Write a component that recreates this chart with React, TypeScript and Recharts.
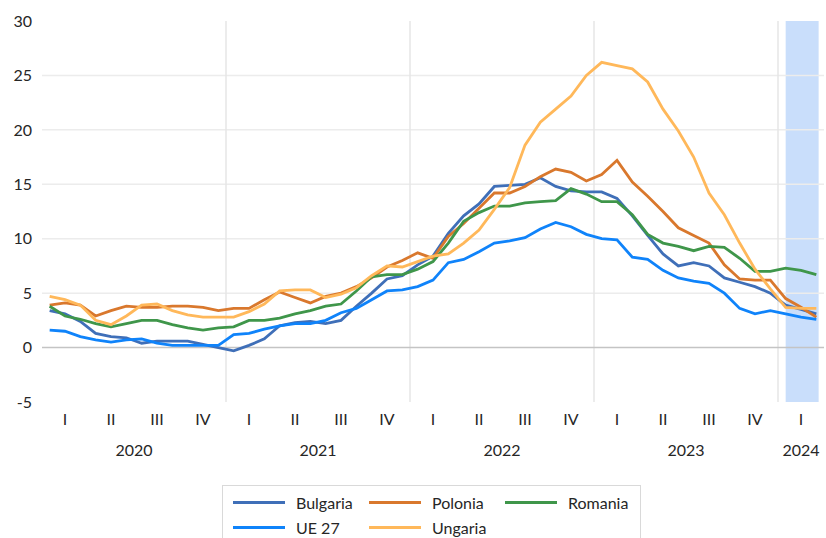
import { LineChart, Line, XAxis, YAxis, ReferenceLine, ReferenceArea } from "recharts";

const years = [2020, 2021, 2022, 2023, 2024];
const quarterLabels = ["I", "II", "III", "IV"];
const yTicks = [-5, 0, 5, 10, 15, 20, 25, 30];

const bulgaria = [
  3.4, 3.1, 2.4, 1.3, 1.0, 0.9, 0.4, 0.6, 0.6, 0.6, 0.3, 0.0,
  -0.3, 0.2, 0.8, 2.0, 2.3, 2.4, 2.2, 2.5, 3.8, 5.0, 6.3, 6.6,
  7.6, 8.4, 10.5, 12.1, 13.2, 14.8, 14.9, 15.0, 15.6, 14.8, 14.4, 14.3,
  14.3, 13.7, 12.1, 10.3, 8.6, 7.5, 7.8, 7.5, 6.4, 6.0, 5.6, 5.0,
  3.9, 3.5, 3.1,
];
const polonia = [
  3.9, 4.1, 3.9, 2.9, 3.4, 3.8, 3.7, 3.7, 3.8, 3.8, 3.7, 3.4,
  3.6, 3.6, 4.4, 5.1, 4.6, 4.1, 4.7, 5.0, 5.6, 6.4, 7.4, 8.0,
  8.7, 8.2, 10.2, 11.4, 12.8, 14.2, 14.2, 14.8, 15.7, 16.4, 16.1, 15.3,
  15.9, 17.2, 15.2, 13.9, 12.5, 11.0, 10.3, 9.6, 7.6, 6.3, 6.2, 6.2,
  4.5, 3.7, 2.8,
];
const romania = [
  3.8, 2.9, 2.6, 2.2, 1.9, 2.2, 2.5, 2.5, 2.1, 1.8, 1.6, 1.8,
  1.9, 2.5, 2.5, 2.7, 3.1, 3.4, 3.8, 4.0, 5.2, 6.5, 6.7, 6.7,
  7.2, 7.9, 9.6, 11.6, 12.4, 13.0, 13.0, 13.3, 13.4, 13.5, 14.6, 14.1,
  13.4, 13.4, 12.2, 10.4, 9.6, 9.3, 8.9, 9.3, 9.2, 8.2, 7.0, 7.0,
  7.3, 7.1, 6.7,
];
const ue27 = [
  1.6, 1.5, 1.0, 0.7, 0.5, 0.7, 0.8, 0.4, 0.2, 0.2, 0.2, 0.2,
  1.2, 1.3, 1.7, 2.0, 2.2, 2.2, 2.5, 3.2, 3.6, 4.4, 5.2, 5.3,
  5.6, 6.2, 7.8, 8.1, 8.8, 9.6, 9.8, 10.1, 10.9, 11.5, 11.1, 10.4,
  10.0, 9.9, 8.3, 8.1, 7.1, 6.4, 6.1, 5.9, 5.0, 3.6, 3.1, 3.4,
  3.1, 2.8, 2.6,
];
const ungaria = [
  4.7, 4.4, 3.9, 2.5, 2.1, 2.9, 3.9, 4.0, 3.4, 3.0, 2.8, 2.8,
  2.8, 3.3, 4.0, 5.2, 5.3, 5.3, 4.6, 4.9, 5.5, 6.6, 7.5, 7.4,
  7.9, 8.4, 8.6, 9.6, 10.8, 12.7, 14.7, 18.6, 20.7, 21.9, 23.1, 25.0,
  26.2, 25.9, 25.6, 24.4, 21.9, 19.9, 17.5, 14.2, 12.2, 9.6, 7.2, 5.4,
  3.7, 3.6, 3.6,
];

const series = [
  { key: "bulgaria", name: "Bulgaria", color: "#3f6fb8", values: bulgaria },
  { key: "polonia", name: "Polonia", color: "#d9782d", values: polonia },
  { key: "romania", name: "Romania", color: "#3f964a", values: romania },
  { key: "ue27", name: "UE 27", color: "#0f83fa", values: ue27 },
  { key: "ungaria", name: "Ungaria", color: "#ffb85a", values: ungaria },
];

const data = bulgaria.map((_, i) => {
  const row: Record<string, number> = { idx: i, year: years[Math.floor(i / 12)], month: i % 12 };
  series.forEach((s) => (row[s.key] = s.values[i]));
  return row;
});

const last = data.length - 1;
const quarterTicks = data.filter((d) => d.month % 3 === 1).map((d) => d.idx);
const yearTicks = years.map((y) => {
  const idx = data.filter((d) => d.year === y).map((d) => d.idx);
  return (idx[0] + idx[idx.length - 1]) / 2;
});
const yearBreaks = data.filter((d) => d.month === 0 && d.idx > 0).map((d) => d.idx - 0.5);
const lastYearStart = data.find((d) => d.year === years[years.length - 1])!.idx;

const font = "Lato, 'Open Sans', sans-serif";
const textColor = "#262626";
const tickStyle = { fontSize: 16, fill: textColor, fontFamily: font };

const legendOrder = [
  ["bulgaria", "polonia", "romania"],
  ["ue27", "ungaria"],
];

export default function App() {
  return (
    <div style={{ position: "absolute", left: 0, top: 0, width: 826, height: 538, background: "#fff" }}>
      <LineChart width={826} height={538} data={data} margin={{ top: 21, right: 2, left: 0, bottom: 66 }}>
        <ReferenceArea
          xAxisId="q"
          x1={lastYearStart}
          x2={last + 0.15}
          fill="#c9defb"
          fillOpacity={1}
          stroke="none"
          ifOverflow="visible"
        />
        {yTicks
          .filter((v) => v > 0 && v < 30)
          .map((v) => (
            <ReferenceLine key={"g" + v} xAxisId="q" y={v} stroke="#ececec" strokeWidth={1.5} />
          ))}
        {yearBreaks.map((x) => (
          <ReferenceLine key={"b" + x} xAxisId="q" x={x} stroke="#e6e6e6" strokeWidth={1.5} />
        ))}
        <ReferenceLine xAxisId="q" y={0} stroke="#c4c4c4" strokeWidth={1.5} />
        <XAxis
          xAxisId="q"
          type="number"
          dataKey="idx"
          domain={[-0.5, last + 0.5]}
          ticks={quarterTicks}
          interval={0}
          tickFormatter={(v) => quarterLabels[Math.floor((v % 12) / 3)]}
          axisLine={false}
          tickLine={false}
          tickMargin={6}
          height={30}
          tick={tickStyle}
        />
        <XAxis
          xAxisId="y"
          type="number"
          dataKey="idx"
          domain={[-0.5, last + 0.5]}
          ticks={yearTicks}
          interval={0}
          tickFormatter={(v) => String(years[Math.floor(v / 12)])}
          axisLine={false}
          tickLine={false}
          tickMargin={7}
          height={40}
          tick={tickStyle}
        />
        <YAxis
          type="number"
          domain={[-5, 30]}
          ticks={yTicks}
          interval={0}
          axisLine={false}
          tickLine={false}
          tickMargin={4}
          width={42}
          tick={tickStyle}
        />
        {series.map((s) => (
          <Line
            key={s.key}
            xAxisId="q"
            type="linear"
            dataKey={s.key}
            name={s.name}
            stroke={s.color}
            strokeWidth={2.8}
            dot={false}
            isAnimationActive={false}
          />
        ))}
      </LineChart>
      <div
        style={{
          position: "absolute",
          left: 222,
          top: 485,
          width: 419,
          height: 60,
          border: "1px solid #d9d9d9",
          boxSizing: "border-box",
          fontFamily: font,
          fontSize: 16,
          color: textColor,
        }}
      >
        {legendOrder.map((row, r) => (
          <div key={r} style={{ position: "absolute", left: 10, top: 5 + r * 25, display: "flex" }}>
            {row.map((k) => {
              const s = series.find((x) => x.key === k)!;
              return (
                <div key={k} style={{ width: 136, display: "flex", alignItems: "center", height: 22 }}>
                  <span style={{ width: 52, height: 3, background: s.color, marginRight: 11, display: "inline-block" }} />
                  <span>{s.name}</span>
                </div>
              );
            })}
          </div>
        ))}
      </div>
    </div>
  );
}
